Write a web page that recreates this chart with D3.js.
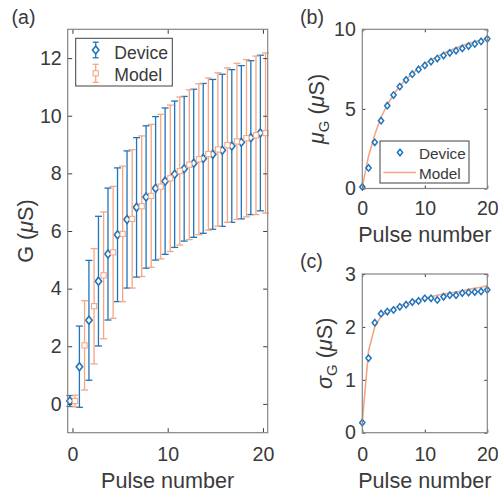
<!DOCTYPE html>
<html>
<head>
<meta charset="utf-8">
<script src="https://cdn.jsdelivr.net/npm/d3@7"></script>
<style>
  body { margin: 0; background: #fff; }
  svg text { font-family: "Liberation Sans", Arial, Helvetica, sans-serif; fill: #3a3a3a; }
</style>
</head>
<body>
<svg id="chart" width="498" height="494"></svg>
<script>
// ---------------- data ----------------
const pulses      = [0, 1, 2, 3, 4, 5, 6, 7, 8, 9, 10, 11, 12, 13, 14, 15, 16, 17, 18, 19, 20];
const deviceMean  = [0.10, 1.29, 2.90, 4.26, 5.20, 5.87, 6.40, 6.82, 7.18, 7.48, 7.73, 7.97, 8.16, 8.35, 8.52, 8.66, 8.80, 8.95, 9.08, 9.24, 9.40];
const deviceStd   = [0.19, 1.41, 2.08, 2.25, 2.29, 2.32, 2.38, 2.42, 2.47, 2.49, 2.54, 2.54, 2.51, 2.57, 2.60, 2.60, 2.64, 2.65, 2.66, 2.67, 2.70];
const modelMean   = [0.10, 2.03, 3.39, 4.46, 5.26, 5.90, 6.42, 6.86, 7.22, 7.54, 7.83, 8.08, 8.30, 8.49, 8.67, 8.83, 8.98, 9.11, 9.22, 9.32, 9.40];
const modelStd    = [0.20, 1.55, 2.00, 2.20, 2.29, 2.35, 2.40, 2.44, 2.48, 2.51, 2.54, 2.57, 2.60, 2.62, 2.64, 2.66, 2.68, 2.71, 2.73, 2.75, 2.78];

const xTicks   = [0, 10, 20];
const yTicksA  = [0, 2, 4, 6, 8, 10, 12];
const yTicksB  = [0, 5, 10];
const yTicksC  = [0, 1, 2, 3];
const seriesNames = ["Device", "Model"];
const xLabel = "Pulse number";

// ---------------- styles ----------------
const BLUE = "#1f74bb";
const ORANGE = "#f5a684";
const TICK_FONT = 19.6;
const LABEL_FONT = 21.6;

const svg = d3.select("#chart");
svg.append("rect").attr("width", 498).attr("height", 494).attr("fill", "#fff");

function frame(x, y, yTicks, tl, xPad, yPad) {
  const [x0, x1] = x.range();
  const [yb, yt] = y.range();
  const g = svg.append("g");
  const styleAxis = sel => {
    sel.attr("font-size", null).attr("font-family", null).attr("color", "#3a3a3a");
    sel.select(".domain").remove();
    sel.selectAll(".tick line").attr("stroke", "#3c3c3c").attr("stroke-width", 1);
    sel.selectAll("text").style("font-size", TICK_FONT + "px");
  };
  g.append("g").attr("transform", `translate(${x0},0)`)
    .call(d3.axisLeft(y).tickValues(yTicks).tickSizeInner(-tl).tickSizeOuter(0).tickPadding(yPad).tickFormat(d3.format("d")))
    .call(styleAxis);
  g.append("g").attr("transform", `translate(${x1},0)`)
    .call(d3.axisRight(y).tickValues(yTicks).tickSizeInner(-tl).tickSizeOuter(0).tickFormat(""))
    .call(styleAxis);
  g.append("g").attr("transform", `translate(0,${yb})`)
    .call(d3.axisBottom(x).tickValues(xTicks).tickSizeInner(-tl).tickSizeOuter(0).tickPadding(xPad).tickFormat(d3.format("d")))
    .call(styleAxis);
  g.append("g").attr("transform", `translate(0,${yt})`)
    .call(d3.axisTop(x).tickValues(xTicks).tickSizeInner(-tl).tickSizeOuter(0).tickFormat(""))
    .call(styleAxis);
  g.append("rect").attr("x", x0).attr("y", yt).attr("width", x1 - x0).attr("height", yb - yt)
    .attr("fill", "none").attr("stroke", "#858585").attr("stroke-width", 1.2);
  return g;
}

function diamond(cx, cy, w, h) {
  return `M${cx},${cy - h}L${cx + w},${cy}L${cx},${cy + h}L${cx - w},${cy}Z`;
}

function yLabel(xPos, yPos, parts) {
  const t = svg.append("text")
    .attr("transform", `translate(${xPos},${yPos}) rotate(-90)`)
    .attr("text-anchor", "middle")
    .style("font-size", LABEL_FONT + "px");
  parts.forEach(p => {
    const s = t.append("tspan").text(p.t);
    if (p.italic) s.style("font-style", "italic");
    if (p.size) s.style("font-size", p.size + "px");
    if (p.dy) s.attr("dy", p.dy);
  });
  return t;
}

// ================= Panel (a) =================
const xA = d3.scaleLinear().domain([-0.5, 20.5]).range([67.7, 267.7]);
const yA = d3.scaleLinear().domain([-1, 13]).range([432.7, 29.3]);
const plotA = svg.append("g");
const offset = 0.27;
const capW = 3.5;

function errorSeries(mean, std, dx, color, sw, marker) {
  const g = plotA.append("g");
  pulses.forEach((p, i) => {
    const cx = xA(p + dx);
    const top = yA(mean[i] + std[i]), bot = yA(mean[i] - std[i]);
    g.append("line").attr("x1", cx).attr("x2", cx).attr("y1", top).attr("y2", bot)
      .attr("stroke", color).attr("stroke-width", sw);
    g.append("line").attr("x1", cx - capW).attr("x2", cx + capW).attr("y1", top).attr("y2", top)
      .attr("stroke", color).attr("stroke-width", sw);
    g.append("line").attr("x1", cx - capW).attr("x2", cx + capW).attr("y1", bot).attr("y2", bot)
      .attr("stroke", color).attr("stroke-width", sw);
  });
  pulses.forEach((p, i) => {
    const cx = xA(p + dx), cy = yA(mean[i]);
    if (marker === "d") {
      g.append("path").attr("d", diamond(cx, cy, 3.2, 4))
        .attr("fill", "#fff").attr("stroke", color).attr("stroke-width", 1.6);
    } else {
      g.append("rect").attr("x", cx - 2.6).attr("y", cy - 2.6).attr("width", 5.2).attr("height", 5.2)
        .attr("fill", "#fff").attr("stroke", color).attr("stroke-width", 1.1);
    }
  });
}
errorSeries(deviceMean, deviceStd, -offset, BLUE, 1.3, "d");
errorSeries(modelMean, modelStd, offset, ORANGE, 1.3, "s");

frame(xA, yA, yTicksA, 4.5, 14, 6);

// legend (a)
const legA = svg.append("g");
legA.append("rect").attr("x", 75.7).attr("y", 38.3).attr("width", 96.6).attr("height", 47.7)
  .attr("fill", "#fff").attr("stroke", "#404040").attr("stroke-width", 1);
[[BLUE, 50, "d", 7.8], [ORANGE, 73.3, "s", 9]].forEach(([c, cy, m, h], i) => {
  const cx = 95.7;
  legA.append("line").attr("x1", cx).attr("x2", cx).attr("y1", cy - h).attr("y2", cy + h).attr("stroke", c).attr("stroke-width", 1.3);
  legA.append("line").attr("x1", cx - 3).attr("x2", cx + 3).attr("y1", cy - h).attr("y2", cy - h).attr("stroke", c).attr("stroke-width", 1.3);
  legA.append("line").attr("x1", cx - 3).attr("x2", cx + 3).attr("y1", cy + h).attr("y2", cy + h).attr("stroke", c).attr("stroke-width", 1.3);
  if (m === "d") legA.append("path").attr("d", diamond(cx, cy, 3.2, 4)).attr("fill", "#fff").attr("stroke", c).attr("stroke-width", 1.6);
  else legA.append("rect").attr("x", cx - 2.6).attr("y", cy - 2.6).attr("width", 5.2).attr("height", 5.2).attr("fill", "#fff").attr("stroke", c).attr("stroke-width", 1.1);
  legA.append("text").attr("x", 114.3).attr("y", i === 0 ? 59 : 80.5).style("font-size", "17.6px").text(seriesNames[i]);
});

svg.append("text").attr("x", xA(10)).attr("y", 488).attr("text-anchor", "middle").style("font-size", LABEL_FONT + "px").text(xLabel);
yLabel(33, 231, [{t: "G ("}, {t: "μ", italic: true}, {t: "S)"}]);
svg.append("text").attr("x", 11.5).attr("y", 24).style("font-size", TICK_FONT + "px").text("(a)");

// ================= Panel (b) =================
const xB = d3.scaleLinear().domain([0, 20]).range([362.3, 487.3]);
const yB = d3.scaleLinear().domain([0, 10]).range([188.5, 29.3]);
const lineB = d3.line().x((d, i) => xB(pulses[i])).y(d => yB(d));
svg.append("path").attr("d", lineB(modelMean)).attr("fill", "none").attr("stroke", ORANGE).attr("stroke-width", 1.6);
pulses.forEach((p, i) => {
  svg.append("path").attr("d", diamond(xB(p), yB(deviceMean[i]), 2.6, 3.2))
    .attr("fill", "#fff").attr("stroke", BLUE).attr("stroke-width", 1.5);
});
frame(xB, yB, yTicksB, 3, 13, 6.5);

const legB = svg.append("g");
legB.append("rect").attr("x", 380).attr("y", 141).attr("width", 89).attr("height", 42)
  .attr("fill", "#fff").attr("stroke", "#404040").attr("stroke-width", 1);
legB.append("path").attr("d", diamond(400, 152.5, 2.6, 3.2)).attr("fill", "#fff").attr("stroke", BLUE).attr("stroke-width", 1.5);
legB.append("line").attr("x1", 383.3).attr("x2", 416).attr("y1", 172.5).attr("y2", 172.5).attr("stroke", ORANGE).attr("stroke-width", 1.6);
legB.append("text").attr("x", 419).attr("y", 158.5).style("font-size", "15.3px").text(seriesNames[0]);
legB.append("text").attr("x", 419).attr("y", 178.5).style("font-size", "15.3px").text(seriesNames[1]);

svg.append("text").attr("x", xB(10)).attr("y", 242).attr("text-anchor", "middle").style("font-size", LABEL_FONT + "px").text(xLabel);
yLabel(324, (29.3 + 188.5) / 2, [{t: "μ", italic: true}, {t: "G", size: 15, dy: 5}, {t: " (", dy: -5}, {t: "μ", italic: true}, {t: "S)"}]);
svg.append("text").attr("x", 300).attr("y", 24).style("font-size", TICK_FONT + "px").text("(b)");

// ================= Panel (c) =================
const xC = d3.scaleLinear().domain([0, 20]).range([362.3, 487.3]);
const yC = d3.scaleLinear().domain([0, 3]).range([432.7, 274]);
const lineC = d3.line().x((d, i) => xC(pulses[i])).y(d => yC(d));
svg.append("path").attr("d", lineC(modelStd)).attr("fill", "none").attr("stroke", ORANGE).attr("stroke-width", 1.6);
pulses.forEach((p, i) => {
  svg.append("path").attr("d", diamond(xC(p), yC(deviceStd[i]), 2.6, 3.2))
    .attr("fill", "#fff").attr("stroke", BLUE).attr("stroke-width", 1.5);
});
frame(xC, yC, yTicksC, 3, 14, 6.5);

svg.append("text").attr("x", xC(10)).attr("y", 488).attr("text-anchor", "middle").style("font-size", LABEL_FONT + "px").text(xLabel);
yLabel(332, (274 + 432.7) / 2, [{t: "σ", italic: true}, {t: "G", size: 15, dy: 5}, {t: " (", dy: -5}, {t: "μ", italic: true}, {t: "S)"}]);
svg.append("text").attr("x", 300).attr("y", 268).style("font-size", TICK_FONT + "px").text("(c)");
</script>
</body>
</html>
